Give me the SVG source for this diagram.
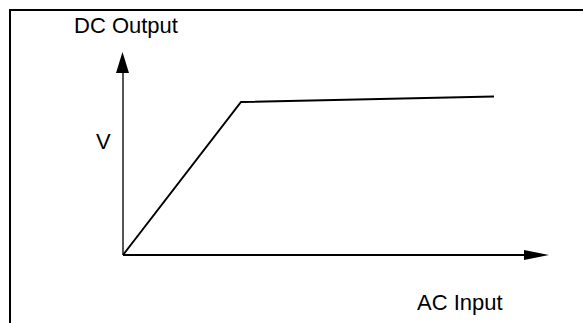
<svg xmlns="http://www.w3.org/2000/svg" width="583" height="323" viewBox="0 0 583 323">
<style>
.lbl{font-family:"Liberation Sans",Arial,sans-serif;font-size:22px;fill:#000}
</style>
<rect width="583" height="323" fill="#fff"/>
<g id="frame"><path d="M10,340 V10 H600" fill="none" stroke="#000" stroke-width="2"/></g>
<g id="connectors">
<line x1="123" y1="255" x2="123" y2="72" stroke="#555" stroke-width="2"/>
<polygon points="122.5,52 116,73 129,73" fill="#000"/>
<line x1="123" y1="255" x2="526" y2="255" stroke="#000" stroke-width="2"/>
<polygon points="549,255 524,250 524,260" fill="#000"/>
<polyline points="123,255 241,102 494,96.5" fill="none" stroke="#000" stroke-width="2"/>
</g>
<g id="labels">
<text class="lbl" x="74" y="33">DC Output</text>
<text class="lbl" x="96" y="149">V</text>
<text class="lbl" x="417" y="310">AC Input</text>
</g>
</svg>
